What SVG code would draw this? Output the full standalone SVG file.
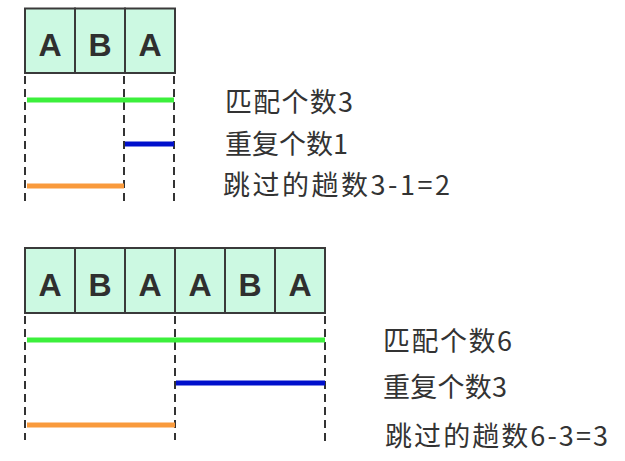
<svg xmlns="http://www.w3.org/2000/svg" width="625" height="461" viewBox="0 0 625 461">
<style>
.cell{fill:#ccf9e2;stroke:#3a3a3a;stroke-width:2}
.lt{font-family:"Liberation Sans",Arial,sans-serif;font-weight:bold;font-size:32px;fill:#2f2f2f;text-anchor:middle}
.lbl{font-family:"Noto Sans CJK SC","Noto Sans",sans-serif;font-size:27px;fill:#333}
.dash{stroke:#333;stroke-width:2;stroke-dasharray:8 5;fill:none}
.bar{stroke-width:5;fill:none}
.g{stroke:#3cf03c}.b{stroke:#0010cc}.o{stroke:#f99a3c}
</style>
<rect width="625" height="461" fill="#fff"/>
<g id="top-row">
<rect class="cell" x="25" y="8.5" width="50" height="64.5"/>
<rect class="cell" x="75" y="8.5" width="50" height="64.5"/>
<rect class="cell" x="125" y="8.5" width="50" height="64.5"/>
<text class="lt" x="50" y="56">A</text>
<text class="lt" x="100" y="56">B</text>
<text class="lt" x="150" y="56">A</text>
</g>
<g id="top-lines">
<line class="dash" x1="25" y1="76" x2="25" y2="201"/>
<line class="dash" x1="124" y1="76" x2="124" y2="201"/>
<line class="dash" x1="174" y1="76" x2="174" y2="201"/>
<line class="bar g" x1="27" y1="100" x2="174" y2="100"/>
<line class="bar b" x1="125" y1="144" x2="174" y2="144"/>
<line class="bar o" x1="27" y1="186" x2="124" y2="186"/>
</g>
<g id="top-labels">
<text class="lbl" x="225" y="112" textLength="128" lengthAdjust="spacing">匹配个数3</text>
<text class="lbl" x="225" y="154" textLength="123" lengthAdjust="spacing">重复个数1</text>
<text class="lbl" x="223" y="195" textLength="227" lengthAdjust="spacing">跳过的趟数3-1=2</text>
</g>
<g id="bottom-row">
<rect class="cell" x="25" y="248" width="50" height="65"/>
<rect class="cell" x="75" y="248" width="50" height="65"/>
<rect class="cell" x="125" y="248" width="50" height="65"/>
<rect class="cell" x="175" y="248" width="50" height="65"/>
<rect class="cell" x="225" y="248" width="50" height="65"/>
<rect class="cell" x="275" y="248" width="50" height="65"/>
<text class="lt" x="50" y="296">A</text>
<text class="lt" x="100" y="296">B</text>
<text class="lt" x="150" y="296">A</text>
<text class="lt" x="200" y="296">A</text>
<text class="lt" x="250" y="296">B</text>
<text class="lt" x="300" y="296">A</text>
</g>
<g id="bottom-lines">
<line class="dash" x1="25" y1="316" x2="25" y2="440"/>
<line class="dash" x1="175" y1="316" x2="175" y2="440"/>
<line class="dash" x1="325" y1="316" x2="325" y2="444"/>
<line class="bar g" x1="27" y1="340" x2="325" y2="340"/>
<line class="bar b" x1="176" y1="383" x2="325" y2="383"/>
<line class="bar o" x1="27" y1="425" x2="175" y2="425"/>
</g>
<g id="bottom-labels">
<text class="lbl" x="383" y="351" textLength="129" lengthAdjust="spacing">匹配个数6</text>
<text class="lbl" x="383" y="397" textLength="124" lengthAdjust="spacing">重复个数3</text>
<text class="lbl" x="385" y="446" textLength="223" lengthAdjust="spacing">跳过的趟数6-3=3</text>
</g>
</svg>
